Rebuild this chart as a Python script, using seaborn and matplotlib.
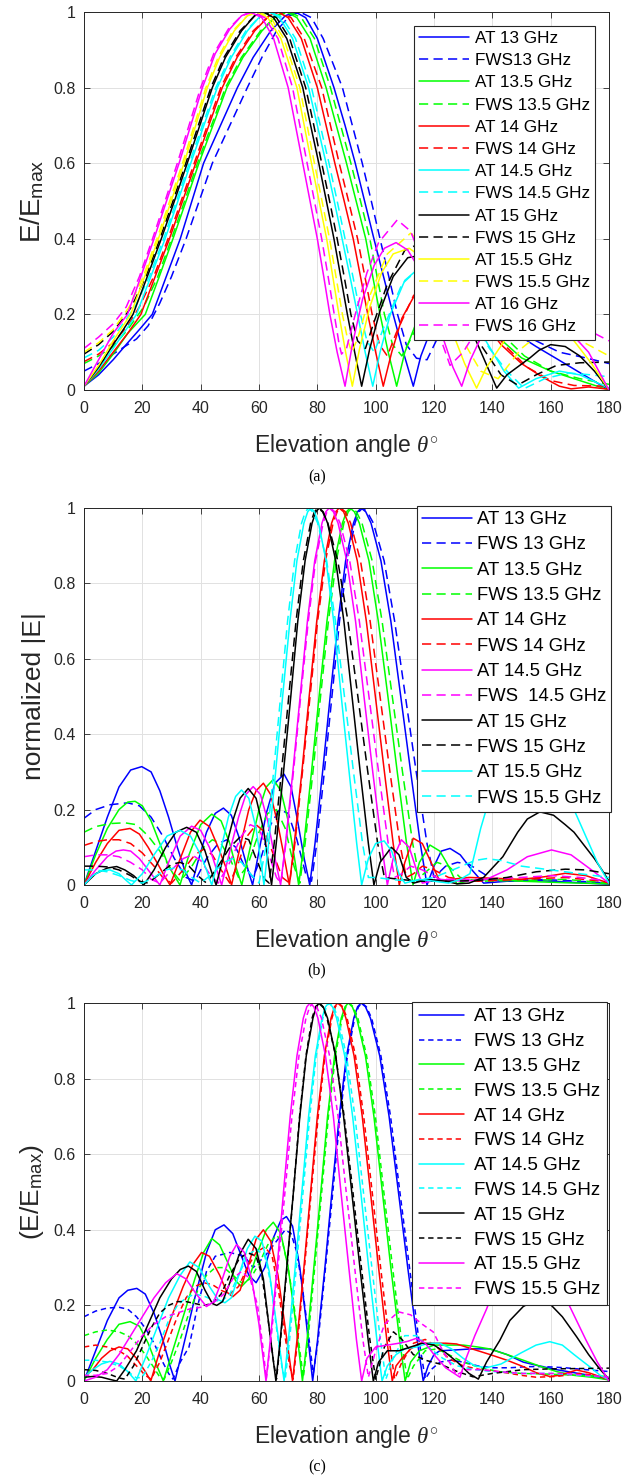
import matplotlib
matplotlib.use("Agg")
import matplotlib.pyplot as plt
import seaborn as sns

# ---------------- data: panel (a) ----------------
A_LABELS = ['AT 13 GHz', 'FWS13 GHz', 'AT 13.5 GHz', 'FWS 13.5 GHz', 'AT 14 GHz', 'FWS 14 GHz',
            'AT 14.5 GHz', 'FWS 14.5 GHz', 'AT 15 GHz', 'FWS 15 GHz', 'AT 15.5 GHz', 'FWS 15.5 GHz',
            'AT 16 GHz', 'FWS 16 GHz']
A_AT13 = [(0,.01),(5,.04),(10,.08),(15,.125),(19,.16),(23.4,.2),(28.2,.3),(33,.4),(37,.5),(41,.6),(46.8,.7),(52.6,.8),(58,.88),(64,.95),(69,.99),(72.5,1),(76,.985),(80,.93),(85.7,.8),(89.5,.7),(93,.6),(96.2,.5),(99.4,.4),(102.7,.3),(106,.2),(109.5,.1),(112.9,.01),(115.5,.09),(119,.16),(125,.23),(132,.26),(140,.22),(148,.15),(155,.115),(162,.083),(170,.046),(180,0)]
A_FWS13 = [(0,.05),(5,.07),(10,.095),(15,.12),(18,.135),(22,.17),(26,.23),(30,.3),(35,.4),(39.5,.5),(44,.6),(50,.7),(56,.8),(61,.88),(66,.95),(70.5,.99),(74,1),(78,.985),(82,.93),(88.6,.8),(92,.7),(95.4,.6),(98.5,.5),(101.5,.4),(104.5,.3),(107.5,.2),(110.5,.12),(114,.084),(117.6,.08),(122,.15),(130,.24),(138,.24),(146,.18),(155,.13),(163,.1),(172,.085),(180,.07)]
A_AT135 = [(0,.01),(5,.045),(10,.095),(15,.15),(21,.2),(25.8,.3),(30.5,.4),(35,.5),(39.4,.6),(44.2,.7),(49,.8),(54.5,.88),(61,.95),(66,.99),(69.5,1),(73,.985),(77.5,.93),(83,.8),(86.5,.7),(90,.6),(93.3,.5),(96.6,.4),(99,.3),(101.5,.2),(104.3,.1),(107.2,.01),(110,.1),(114,.18),(119,.25),(126,.27),(134,.22),(142,.14),(150,.085),(160,.05),(170,.025),(180,0)]
A_FWS135 = [(0,.07),(5,.09),(10,.115),(15,.16),(20.5,.22),(25.3,.3),(30,.4),(34.5,.5),(38.9,.6),(43.7,.7),(48.5,.8),(54,.88),(60.5,.95),(66,.99),(70.5,1),(74.5,.985),(79,.93),(84.5,.8),(88,.7),(91.5,.6),(94.8,.5),(98,.4),(100.5,.3),(103,.2),(105.8,.12),(109,.09),(113,.15),(119,.24),(127,.27),(135,.22),(143,.15),(151,.09),(160,.05),(170,.03),(180,.015)]
A_AT14 = [(0,.01),(5,.05),(10,.1),(15,.15),(19.5,.2),(24.4,.3),(29.3,.4),(33.8,.5),(38.3,.6),(42.8,.7),(47.4,.8),(52.5,.88),(58.5,.95),(63.5,.99),(66.5,1),(70,.985),(74.5,.93),(80,.8),(83,.7),(86,.6),(89.2,.5),(92.3,.4),(94.8,.3),(97.3,.2),(100,.1),(102.6,.01),(105.5,.1),(109,.19),(114,.26),(120,.3),(127,.28),(135,.2),(143,.12),(150,.07),(157,.035),(163,.01),(167,.003),(173,.008),(180,.002)]
A_FWS14 = [(0,.075),(5,.095),(10,.125),(15,.17),(19,.22),(23.9,.3),(28.8,.4),(33.3,.5),(37.8,.6),(42.3,.7),(46.9,.8),(52,.88),(58,.95),(63.5,.99),(67,1),(71,.985),(75.5,.93),(81.5,.8),(84.5,.7),(87.5,.6),(90.7,.5),(93.8,.4),(96.3,.3),(98.8,.2),(101.3,.12),(104,.09),(107,.15),(113,.25),(120,.29),(128,.27),(136,.2),(144,.12),(152,.06),(160,.025),(168,.012),(180,.01)]
A_AT145 = [(0,.01),(5,.055),(10,.11),(14,.155),(18,.2),(22.9,.3),(27.8,.4),(32.2,.5),(36.6,.6),(41.1,.7),(45.7,.8),(50.5,.88),(56,.95),(60.5,.99),(63.5,1),(67,.985),(71.5,.93),(77,.8),(80,.7),(83,.6),(85.8,.5),(88.5,.4),(91.2,.3),(93.8,.2),(96.4,.1),(99,.01),(101.5,.1),(105,.2),(110,.29),(116,.33),(122,.32),(129,.25),(137,.14),(144,.05),(149,.005),(155,.03),(163,.05),(170,.04),(180,.005)]
A_FWS145 = [(0,.085),(5,.105),(10,.14),(13.8,.18),(17.5,.22),(22.4,.3),(27.3,.4),(31.7,.5),(36.1,.6),(40.6,.7),(45.2,.8),(50,.88),(55.5,.95),(60.5,.99),(64,1),(68,.985),(72.5,.93),(78,.8),(81,.7),(84,.6),(86.8,.5),(89.5,.4),(92.2,.3),(94.8,.2),(97,.13),(99.5,.1),(103,.17),(109,.28),(116,.33),(123,.3),(131,.21),(139,.11),(145,.05),(151,.004),(158,.03),(166,.045),(174,.04),(180,.035)]
A_AT15 = [(0,.01),(5,.06),(10,.12),(13.5,.16),(16.8,.2),(21.7,.3),(26.5,.4),(31,.5),(35.4,.6),(39.7,.7),(44,.8),(48.5,.88),(54,.95),(58.5,.99),(61.5,1),(65,.985),(69.5,.93),(75,.8),(77.7,.7),(80.5,.6),(83.1,.5),(85.7,.4),(88,.3),(90.3,.2),(92.8,.1),(95.2,.01),(98,.11),(101.5,.21),(106,.3),(111,.35),(116,.357),(122,.32),(128,.24),(135,.12),(141.5,.005),(145,.04),(148.5,.06),(152.9,.085),(156,.105),(160,.12),(165,.115),(170,.09),(175,.05),(180,0)]
A_FWS15 = [(0,.095),(5,.12),(10,.155),(13,.185),(16.3,.22),(21.2,.3),(26,.4),(30.5,.5),(34.9,.6),(39.2,.7),(43.5,.8),(48,.88),(53.5,.95),(58.5,.99),(62,1),(66,.985),(70.5,.93),(76,.8),(78.8,.7),(81.5,.6),(84.2,.5),(86.8,.4),(89.2,.3),(91.5,.2),(93.8,.13),(96.5,.11),(99,.17),(104,.28),(110,.37),(116,.39),(122,.34),(129,.23),(136,.12),(143,.04),(148.7,.013),(155,.04),(162,.065),(170,.072),(180,.074)]
A_AT155 = [(0,.01),(5,.065),(10,.13),(13,.165),(16,.2),(20.8,.3),(25.5,.4),(29.9,.5),(34.3,.6),(38.3,.7),(42.3,.8),(46.5,.88),(51.5,.95),(56,.99),(59,1),(63,.985),(67.5,.93),(73,.8),(75.5,.7),(78,.6),(80.6,.5),(83.2,.4),(85.3,.3),(87.4,.2),(89.7,.1),(92,.01),(94.5,.11),(98,.22),(102,.31),(106,.36),(111.5,.375),(116,.35),(121,.27),(126,.16),(130.5,.07),(134.6,.005),(138,.06),(145,.14),(153,.2),(161,.19),(168,.13),(174,.07),(180,0)]
A_FWS155 = [(0,.1),(5,.125),(10,.16),(12.8,.19),(15.5,.22),(20.3,.3),(25,.4),(29.4,.5),(33.8,.6),(37.8,.7),(41.8,.8),(46,.88),(51,.95),(56,.99),(60,1),(64,.985),(68.5,.93),(74,.8),(76.5,.7),(79,.6),(81.6,.5),(84.2,.4),(86.4,.3),(88.6,.2),(90.5,.13),(91.8,.1),(94,.14),(98,.25),(104,.36),(112,.415),(118,.37),(124,.26),(130,.13),(136,.05),(142,.03),(150,.11),(158,.16),(168,.14),(180,.09)]
A_AT16 = [(0,.01),(5,.08),(10,.15),(14.9,.2),(19.5,.3),(24,.4),(28.3,.5),(32.6,.6),(36.6,.7),(40.6,.8),(45,.89),(50,.955),(54,.99),(57,1),(61,.985),(65,.93),(70,.8),(72.5,.7),(75,.6),(77.5,.5),(80,.4),(82.2,.3),(84.3,.2),(86.8,.1),(89.5,.01),(92,.12),(95.5,.24),(99.5,.33),(103,.375),(107,.39),(111,.37),(115,.32),(119,.24),(123,.14),(126.5,.06),(129.5,.01),(132.5,.08),(138,.17),(145,.23),(152,.25),(160,.22),(167,.15),(173,.1),(180,0)]
A_FWS16 = [(0,.11),(5,.14),(10,.175),(14.5,.22),(19,.3),(23.5,.4),(27.8,.5),(32,.6),(36,.7),(40,.8),(44.5,.89),(49.5,.955),(54,.99),(58,1),(62,.985),(66.5,.93),(71.5,.8),(74,.7),(76.5,.6),(79,.5),(81.5,.4),(83.7,.3),(85.8,.2),(87.5,.12),(88.3,.095),(90,.11),(93,.2),(97,.31),(101,.39),(107.4,.45),(112,.42),(116,.34),(120,.22),(123,.12),(125.5,.065),(130,.1),(138,.2),(148,.27),(158,.25),(168,.19),(175,.15),(180,.13)]

# ---------------- data: panel (b) ----------------
B_LABELS = ['AT 13 GHz', 'FWS 13 GHz', 'AT 13.5 GHz', 'FWS 13.5 GHz', 'AT 14 GHz', 'FWS 14 GHz',
            'AT 14.5 GHz', 'FWS  14.5 GHz', 'AT 15 GHz', 'FWS 15 GHz', 'AT 15.5 GHz', 'FWS 15.5 GHz']
B_AT13 = [(0,0),(4,.09),(8,.18),(12,.26),(16,.305),(19.8,.314),(23,.3),(26,.25),(29,.18),(32,.1),(34.5,.04),(36.9,0),(39,.06),(42,.14),(45,.19),(47.8,.204),(50.5,.185),(53,.13),(55.5,.06),(57.8,0),(60,.09),(62.5,.19),(65.5,.27),(68.6,.294),(71,.26),(73,.18),(75.5,.07),(77.4,0),(79.2,.11),(81.8,.3),(84.4,.5),(87.1,.7),(89.7,.86),(92.4,.96),(93.8,.99),(95,1),(96.6,.99),(98.4,.96),(101.8,.86),(105.2,.7),(108.6,.5),(112,.3),(115.3,.11),(117.6,0),(120,.05),(122.5,.09),(125.5,.097),(129,.08),(133,.04),(137,.005),(145,.01),(155,.012),(165,.008),(180,.002)]
B_FWS13 = [(0,.177),(4,.2),(9,.213),(15,.218),(19,.21),(23,.18),(27,.13),(31,.07),(35,.02),(38,.01),(42,.07),(46,.11),(49,.12),(52,.1),(55,.05),(58,.02),(61,.08),(64,.16),(67,.2),(70,.19),(73,.12),(76,.03),(78,.01),(79.8,.11),(82.4,.3),(85,.5),(87.6,.7),(90.3,.86),(92.9,.96),(94.3,.99),(95.5,1),(97.1,.99),(99.2,.96),(102.9,.86),(106.5,.7),(110.2,.5),(113.9,.3),(117.6,.11),(120,.02),(124,.05),(128,.06),(132,.055),(136,.035),(140,.015),(146,.01),(155,.015),(165,.012),(180,.005)]
B_AT135 = [(0,0),(4,.08),(8,.15),(12,.2),(15,.22),(17.5,.222),(20,.21),(23,.17),(26,.11),(29,.05),(32.9,0),(36,.08),(40,.16),(43.8,.188),(47,.17),(50,.11),(52,.05),(54.1,0),(57,.1),(60,.2),(62.5,.26),(64.9,.28),(67.5,.25),(70,.17),(72,.08),(73.6,0),(75.4,.11),(78,.3),(80.6,.5),(83.3,.7),(85.9,.86),(88.6,.96),(90,.99),(91.2,1),(92.7,.99),(94.4,.96),(97.7,.86),(100.9,.7),(104.2,.5),(107.4,.3),(110.6,.11),(112.8,0),(115,.06),(118.6,.106),(122,.09),(125,.05),(127.8,.003),(132,.012),(140,.015),(150,.01),(165,.006),(180,.003)]
B_FWS135 = [(0,.14),(4,.155),(9,.163),(14,.165),(18,.16),(22,.13),(26,.09),(30,.04),(33,.01),(37,.05),(41,.1),(44,.12),(47,.11),(50,.07),(53,.02),(56,.05),(60,.14),(63,.19),(66,.2),(69,.15),(72,.05),(74,.005),(75.8,.11),(78.5,.3),(81.1,.5),(83.8,.7),(86.5,.86),(89.1,.96),(90.6,.99),(91.8,1),(93.4,.99),(95.3,.96),(98.8,.86),(102.2,.7),(105.7,.5),(109.2,.3),(112.7,.11),(115,.02),(118,.04),(121,.06),(125,.05),(129,.02),(135,.01),(150,.012),(165,.015),(180,.005)]
B_AT14 = [(0,0),(4,.06),(8,.11),(12,.145),(15.8,.15),(19,.135),(22,.1),(25,.06),(27.5,.025),(29.5,0),(33,.07),(36.5,.14),(39.8,.172),(43,.155),(46,.1),(48.5,.05),(50.6,0),(53.5,.1),(56.5,.2),(59,.25),(61.5,.27),(64,.24),(66.5,.16),(68.5,.08),(70.4,0),(72.1,.11),(74.7,.3),(77.2,.5),(79.8,.7),(82.4,.86),(84.9,.96),(86.3,.99),(87.5,1),(89,.99),(90.6,.96),(93.7,.86),(96.8,.7),(99.9,.5),(103,.3),(106,.11),(108.1,0),(110,.06),(112.9,.124),(116,.11),(119,.06),(122,.01),(126,.015),(132,.02),(140,.018),(150,.015),(158,.022),(165,.031),(172,.025),(180,.005)]
B_FWS14 = [(0,.105),(4,.115),(8,.12),(12,.12),(16,.11),(20,.085),(24,.05),(27,.02),(30,.005),(34,.04),(38,.08),(41,.095),(44,.08),(47,.04),(50,.005),(53,.06),(56,.13),(59,.16),(62,.14),(65,.08),(68,.02),(70.5,.005),(72.3,.11),(74.9,.3),(77.5,.5),(80.1,.7),(82.8,.86),(85.4,.96),(86.8,.99),(88,1),(89.6,.99),(91.4,.96),(94.8,.86),(98.1,.7),(101.5,.5),(104.9,.3),(108.3,.11),(110.5,.02),(113,.03),(116,.05),(120,.04),(125,.02),(135,.01),(150,.015),(165,.02),(180,.008)]
B_AT145 = [(0,0),(4,.04),(8,.075),(11,.09),(13.5,.093),(16,.09),(19,.07),(22,.04),(24.5,.015),(26,0),(29,.06),(33,.13),(36.9,.156),(40,.145),(43,.1),(45.5,.04),(47.2,0),(50,.09),(53,.18),(55.5,.24),(58,.261),(60.5,.24),(63,.17),(65.5,.07),(67.4,0),(69.1,.11),(71.6,.3),(74.1,.5),(76.6,.7),(79.1,.86),(81.6,.96),(82.9,.99),(84.1,1),(85.5,.99),(87.1,.96),(90.1,.86),(93.1,.7),(96,.5),(99,.3),(102,.11),(104,0),(106,.07),(108.8,.12),(111.5,.1),(114,.04),(116,.005),(122,.015),(130,.01),(138,.015),(145,.04),(152,.075),(160.3,.093),(167,.08),(174,.04),(180,.005)]
B_FWS145 = [(0,.075),(4,.08),(8,.08),(12,.075),(16,.06),(20,.04),(23,.015),(26,.005),(30,.04),(34,.07),(37,.08),(40,.065),(43,.03),(46,.005),(50,.06),(54,.13),(57,.16),(60,.15),(63,.09),(66,.02),(67.5,.005),(69.2,.11),(71.8,.3),(74.3,.5),(76.9,.7),(79.4,.86),(82,.96),(83.3,.99),(84.5,1),(86,.99),(87.8,.96),(91.1,.86),(94.4,.7),(97.7,.5),(101,.3),(104.3,.11),(106.5,.02),(109,.03),(112,.05),(116,.04),(122,.015),(135,.015),(150,.02),(160,.025),(170,.02),(180,.01)]
B_AT15 = [(0,0),(4,.03),(8,.045),(11.2,.049),(14,.04),(17,.025),(20.5,0),(24,.04),(28,.1),(31.5,.14),(35.2,.153),(38.5,.14),(41.5,.09),(43.5,.04),(45.3,0),(48,.08),(51,.17),(53.5,.23),(56.3,.256),(59,.23),(61.5,.15),(63,.07),(64.3,0),(65.9,.11),(68.4,.3),(70.9,.5),(73.3,.7),(75.8,.86),(78.2,.96),(79.5,.99),(80.7,1),(82,.99),(83.5,.96),(86.3,.86),(89.1,.7),(91.9,.5),(94.7,.3),(97.5,.11),(99.4,0),(101.5,.06),(105.4,.1),(108,.08),(110.5,.02),(113,.005),(118,.015),(124,.01),(128,.003),(132,.005),(137,.02),(140,.045),(143.6,.075),(148.7,.14),(152,.175),(156.3,.194),(161,.185),(165,.16),(168,.14),(172,.1),(175,.07),(178,.035),(180,.01)]
B_FWS15 = [(0,.05),(4,.05),(8,.048),(12,.04),(16,.025),(19,.01),(22,.005),(26,.03),(30,.055),(33,.06),(36,.05),(39,.025),(42,.005),(46,.05),(50,.1),(53.6,.128),(56.5,.12),(59,.07),(62,.015),(63.5,.005),(65.2,.11),(67.7,.3),(70.2,.5),(72.7,.7),(75.2,.86),(77.7,.96),(79,.99),(80.2,1),(81.8,.99),(83.6,.96),(87,.86),(90.5,.7),(93.9,.5),(97.3,.3),(100.7,.11),(103,.02),(108,.015),(115,.01),(125,.01),(135,.012),(145,.02),(155,.035),(165,.042),(172,.04),(180,.03)]
B_AT155 = [(0,0),(3,.025),(6,.038),(8.9,.04),(12,.03),(14.5,.012),(16.3,0),(20,.03),(24,.08),(28.5,.13),(32.9,.145),(36.5,.13),(40,.08),(42,.04),(43.8,0),(46.5,.08),(49.5,.18),(52,.235),(54,.252),(56.5,.23),(59,.15),(60.5,.07),(61.7,0),(63.3,.11),(65.7,.3),(68.1,.5),(70.6,.7),(73,.86),(75.4,.96),(76.7,.99),(77.8,1),(79,.99),(80.4,.96),(83,.86),(85.6,.7),(88.2,.5),(90.9,.3),(93.5,.11),(95.2,0),(97.5,.07),(100,.11),(102.9,.117),(105.5,.09),(108,.03),(110,.005),(115,.015),(120,.01),(125,.005),(129,.015),(132.3,.03),(136,.15),(139.8,.25),(145,.33),(152,.36),(158,.33),(164.3,.26),(168,.2),(172,.13),(176,.06),(180,.005)]
B_FWS155 = [(0,.04),(4,.04),(8,.035),(12,.025),(16,.012),(20,.005),(24,.02),(28,.04),(31,.045),(34,.04),(37,.02),(40,.005),(44,.03),(48,.06),(51,.07),(54,.06),(57,.03),(60,.005),(62.6,.11),(65,.3),(67.4,.5),(69.8,.7),(72.2,.86),(74.6,.96),(75.9,.99),(77,1),(78.4,.99),(80.1,.96),(83.2,.86),(86.2,.7),(89.3,.5),(92.4,.3),(95.5,.11),(97.5,.02),(100,.02),(105,.015),(112,.01),(120,.02),(128,.045),(134,.065),(138,.07),(143,.065),(150,.05),(160,.04),(170,.03),(180,.02)]

# ---------------- data: panel (c) ----------------
C_LABELS = ['AT 13 GHz', 'FWS 13 GHz', 'AT 13.5 GHz', 'FWS 13.5 GHz', 'AT 14 GHz', 'FWS 14 GHz',
            'AT 14.5 GHz', 'FWS 14.5 GHz', 'AT 15 GHz', 'FWS 15 GHz', 'AT 15.5 GHz', 'FWS 15.5 GHz']
C_AT13 = [(0,0),(4,.08),(8,.16),(12,.22),(15,.24),(18.1,.245),(21,.23),(24,.18),(27,.11),(29.5,.04),(31.2,0),(34,.09),(38,.22),(42,.34),(45,.4),(48,.413),(51,.39),(54,.33),(56.5,.28),(59,.26),(62,.3),(65,.38),(67.5,.425),(69.4,.435),(71.5,.41),(74,.3),(76,.17),(78.4,0),(80.1,.11),(82.6,.3),(85,.5),(87.5,.7),(90,.86),(92.5,.96),(93.8,.99),(95,1),(96.5,.99),(98.2,.96),(101.4,.86),(104.6,.7),(107.8,.5),(111,.3),(114.2,.11),(116.3,0),(118,.04),(120,.07),(122,.08),(127,.082),(133,.085),(139.2,.085),(145,.07),(150.6,.05),(156,.04),(162,.03),(168,.022),(173.4,.015),(180,.003)]
C_FWS13 = [(0,.17),(4,.185),(8,.193),(12,.195),(15,.19),(18,.17),(21,.14),(24,.1),(27,.05),(29,.02),(30.5,.005),(33,.05),(36,.09),(39,.2),(42,.29),(45,.33),(50,.34),(55,.33),(58,.3),(62,.33),(66,.37),(69,.4),(71,.39),(73,.34),(75,.24),(77,.12),(78.6,.02),(80.3,.11),(82.8,.3),(85.3,.5),(87.8,.7),(90.3,.86),(92.8,.96),(94.1,.99),(95.3,1),(96.8,.99),(98.6,.96),(101.8,.86),(105.1,.7),(108.3,.5),(111.6,.3),(114.8,.11),(117,.005),(119,.03),(122,.05),(126,.055),(130,.05),(135,.04),(140,.035),(146,.035),(152,.038),(158,.038),(165,.035),(172,.03),(180,.025)]
C_AT135 = [(0,0),(4,.06),(8,.11),(12,.15),(15.8,.157),(19,.145),(22,.1),(25,.04),(27.2,0),(30,.07),(34,.17),(38,.27),(41,.34),(43.8,.377),(46.5,.36),(49.5,.31),(52,.265),(54,.25),(56.5,.27),(59.5,.34),(62.5,.4),(64.9,.42),(67.5,.39),(70,.3),(72.5,.16),(74.9,0),(76.5,.11),(78.8,.3),(81.2,.5),(83.5,.7),(85.9,.86),(88.2,.96),(89.5,.99),(90.6,1),(92,.99),(93.5,.96),(96.5,.86),(99.4,.7),(102.3,.5),(105.2,.3),(108.2,.11),(110.1,0),(112,.05),(115,.08),(120,.095),(125,.095),(130,.095),(135,.09),(139,.085),(145,.07),(150.6,.055),(156,.04),(162,.025),(168,.015),(174,.01),(180,.003)]
C_FWS135 = [(0,.12),(4,.13),(8,.135),(12,.13),(15,.12),(18,.1),(21,.07),(24,.035),(26,.01),(27.5,.005),(30,.05),(33,.11),(36,.18),(39,.24),(42,.28),(45,.3),(48,.3),(51,.28),(54,.26),(57,.27),(60,.31),(63,.36),(66,.385),(68,.37),(70,.3),(72,.2),(74,.08),(75.2,.01),(76.8,.11),(79.1,.3),(81.5,.5),(83.8,.7),(86.2,.86),(88.5,.96),(89.8,.99),(90.9,1),(92.3,.99),(93.9,.96),(96.9,.86),(99.9,.7),(102.8,.5),(105.8,.3),(108.8,.11),(110.8,.005),(113,.04),(117,.08),(121,.085),(125,.07),(130,.05),(136,.035),(142,.025),(150,.02),(160,.018),(170,.015),(180,.012)]
C_AT14 = [(0,.01),(3,.03),(6,.06),(9,.08),(12,.09),(15,.085),(18,.06),(21,.025),(22.9,0),(26,.08),(30,.17),(34,.25),(37.5,.31),(40.3,.34),(43,.33),(46.5,.28),(49,.235),(51,.223),(53.5,.24),(56.5,.31),(59,.375),(61.5,.4),(64,.37),(66.5,.28),(69,.14),(71.5,0),(73.05,.11),(75.4,.3),(77.7,.5),(80,.7),(82.4,.86),(84.7,.96),(85.9,.99),(87,1),(88.4,.99),(89.8,.96),(92.6,.86),(95.4,.7),(98.2,.5),(101,.3),(103.8,.11),(105.7,0),(107,.04),(109,.06),(112,.085),(115.2,.1),(120,.1),(124,.1),(127.7,.098),(133,.085),(139.2,.07),(145,.055),(150.6,.038),(155,.022),(159.7,.012),(163,.015),(168.9,.029),(173,.022),(180,.003)]
C_FWS14 = [(0,.09),(4,.095),(8,.09),(12,.08),(15,.065),(18,.04),(21,.015),(23,.005),(26,.05),(29,.11),(32,.17),(35,.22),(38,.25),(41,.26),(44,.255),(47,.24),(50,.23),(53,.25),(56,.3),(59,.34),(62,.355),(64.5,.33),(66.5,.25),(68.5,.14),(70.5,.04),(71.7,.005),(73.3,.11),(75.6,.3),(77.9,.5),(80.3,.7),(82.6,.86),(85,.96),(86.2,.99),(87.3,1),(88.7,.99),(90.2,.96),(93.1,.86),(95.9,.7),(98.8,.5),(101.7,.3),(104.6,.11),(106.5,.005),(109,.05),(113,.1),(117,.11),(121,.09),(125,.06),(130,.04),(136,.03),(142,.025),(150,.015),(155,.01),(162,.012),(170,.02),(175,.015),(180,.005)]
C_AT145 = [(0,.01),(3,.03),(6,.045),(8.9,.052),(12,.045),(15,.025),(17.8,0),(21,.06),(25,.14),(29,.22),(33,.28),(36.3,.315),(39.5,.3),(43,.25),(46,.215),(48.3,.207),(50.5,.22),(53.5,.29),(56,.35),(58.6,.383),(61,.37),(63.5,.29),(66,.15),(68.6,0),(70.1,.11),(72.4,.3),(74.7,.5),(77,.7),(79.3,.86),(81.6,.96),(82.8,.99),(83.9,1),(85.2,.99),(86.6,.96),(89.4,.86),(92.1,.7),(94.9,.5),(97.6,.3),(100.4,.11),(102.2,0),(104,.04),(107,.07),(110,.085),(114,.09),(118,.1),(122,.1),(126,.085),(130,.06),(134,.04),(138,.035),(143,.045),(150,.075),(155,.095),(159.7,.104),(164,.095),(168,.07),(173,.04),(177,.015),(180,.003)]
C_FWS145 = [(0,.055),(4,.055),(8,.05),(12,.04),(15,.025),(18,.008),(20,.01),(23,.05),(26,.1),(29,.16),(32,.2),(35,.22),(38,.23),(41,.225),(44,.215),(47,.21),(50,.23),(53,.28),(56,.33),(59,.35),(62,.33),(64,.26),(66,.14),(68,.03),(69,.005),(70.5,.11),(72.8,.3),(75.1,.5),(77.4,.7),(79.6,.86),(81.9,.96),(83.1,.99),(84.2,1),(85.6,.99),(87.1,.96),(90,.86),(92.9,.7),(95.8,.5),(98.7,.3),(101.6,.11),(103.5,.005),(106,.06),(110,.12),(114,.12),(118,.09),(123,.06),(128,.04),(134,.03),(140,.025),(150,.02),(160,.02),(170,.015),(180,.01)]
C_AT15 = [(0,.01),(3,.012),(6,.01),(9,.004),(11.2,0),(14,.03),(18,.08),(22,.15),(26,.22),(30,.27),(33,.295),(35.8,.304),(38.5,.29),(41.5,.24),(44,.205),(45.5,.2),(47.5,.21),(50,.26),(53,.33),(56.3,.375),(59,.35),(61.5,.27),(63.5,.14),(65.8,0),(67.3,.11),(69.5,.3),(71.8,.5),(74,.7),(76.2,.86),(78.5,.96),(79.6,.99),(80.7,1),(82,.99),(83.5,.96),(86.3,.86),(89,.7),(91.8,.5),(94.6,.3),(97.4,.11),(99.2,0),(101,.05),(104,.08),(108,.08),(112,.09),(116,.1),(120,.095),(124,.075),(128,.05),(132,.02),(135.2,.005),(138,.05),(142.6,.108),(146,.16),(150.6,.197),(155,.215),(159,.21),(164,.17),(168.9,.117),(173,.07),(177,.03),(180,.005)]
C_FWS15 = [(0,.03),(4,.028),(8,.02),(12,.008),(14,.005),(17,.04),(20,.09),(23,.14),(26,.18),(29,.2),(32,.21),(35,.21),(38,.205),(41,.2),(44,.205),(47,.23),(50,.28),(53,.32),(56,.34),(59,.33),(61,.28),(63,.17),(65,.05),(66,.005),(67.4,.11),(69.6,.3),(71.8,.5),(73.9,.7),(76.1,.86),(78.2,.96),(79.4,.99),(80.4,1),(81.8,.99),(83.3,.96),(86.3,.86),(89.2,.7),(92.2,.5),(95.1,.3),(98,.11),(100,.005),(103,.09),(106.1,.13),(109,.11),(112.9,.07),(117,.055),(122,.045),(128,.025),(133.4,.011),(140,.02),(150.6,.03),(160,.032),(170,.033),(180,.034)]
C_AT155 = [(0,0),(4,.01),(8,.03),(12,.07),(16,.12),(20,.17),(24,.22),(28,.26),(31.8,.284),(35,.27),(38.5,.23),(42,.197),(44.5,.21),(47,.26),(50,.33),(52.3,.361),(55,.34),(57.5,.27),(60,.15),(62.4,0),(63.9,.11),(66.2,.3),(68.4,.5),(70.7,.7),(73,.86),(75.2,.96),(76.4,.99),(77.5,1),(78.8,.99),(80.2,.96),(82.8,.86),(85.5,.7),(88.1,.5),(90.8,.3),(93.4,.11),(95.2,0),(97,.06),(100,.09),(104,.095),(108,.1),(111,.105),(114,.113),(117,.1),(120,.07),(124,.035),(128.9,.01),(131,.06),(134,.12),(138,.19),(142,.27),(148,.33),(152,.35),(157,.32),(162,.27),(167,.19),(172,.11),(176,.05),(180,0)]
C_FWS155 = [(0,.015),(4,.015),(8,.02),(12,.04),(16,.08),(20,.12),(24,.15),(28,.17),(32,.18),(36,.19),(40,.195),(44,.205),(48,.23),(51,.27),(54,.29),(57,.27),(59.5,.2),(61.5,.08),(62.5,.005),(64.1,.11),(66.5,.3),(68.9,.5),(71.3,.7),(73.7,.86),(76.1,.96),(77.4,.99),(78.5,1),(79.8,.99),(81.4,.96),(84.2,.86),(87.1,.7),(89.9,.5),(92.8,.3),(95.6,.11),(97.5,.01),(100,.08),(103,.15),(107.8,.183),(112,.175),(116,.15),(119.7,.13),(123,.08),(126,.04),(127.7,.016),(131,.03),(136,.03),(142,.025),(150,.02),(158,.02),(165,.02),(172,.015),(180,.01)]

A_CURVES = [A_AT13, A_FWS13, A_AT135, A_FWS135, A_AT14, A_FWS14, A_AT145, A_FWS145,
            A_AT15, A_FWS15, A_AT155, A_FWS155, A_AT16, A_FWS16]
B_CURVES = [B_AT13, B_FWS13, B_AT135, B_FWS135, B_AT14, B_FWS14, B_AT145, B_FWS145,
            B_AT15, B_FWS15, B_AT155, B_FWS155]
C_CURVES = [C_AT13, C_FWS13, C_AT135, C_FWS135, C_AT14, C_FWS14, C_AT145, C_FWS145,
            C_AT15, C_FWS15, C_AT155, C_FWS155]

BLUE, GREEN, RED, CYAN, BLACK, YELLOW, MAGENTA = '#0000ff', '#00ff00', '#ff0000', '#00ffff', '#000000', '#ffff00', '#ff00ff'
A_COLORS = [BLUE, GREEN, RED, CYAN, BLACK, YELLOW, MAGENTA]
B_COLORS = [BLUE, GREEN, RED, MAGENTA, BLACK, CYAN]
C_COLORS = [BLUE, GREEN, RED, CYAN, BLACK, MAGENTA]

X_TICKS = [0, 20, 40, 60, 80, 100, 120, 140, 160, 180]
Y_TICKS = [0, 0.2, 0.4, 0.6, 0.8, 1.0]
Y_TICKLABELS = ['0', '0.2', '0.4', '0.6', '0.8', '1']

# ---------------- style ----------------
sns.set_style("ticks")
plt.rcParams['font.family'] = ['Liberation Sans', 'DejaVu Sans']
plt.rcParams['mathtext.fontset'] = 'custom'
plt.rcParams['mathtext.rm'] = 'Liberation Sans'
plt.rcParams['mathtext.it'] = 'Liberation Serif:italic'
plt.rcParams['mathtext.bf'] = 'Liberation Sans:bold'

W, H = 623, 1481
fig = plt.figure(figsize=(W / 100, H / 100), dpi=100)
fig.patch.set_facecolor('white')

TXT = '#262626'


def make_axes(top_px, bottom_px):
    return fig.add_axes([84 / W, 1 - bottom_px / H, 525 / W, (bottom_px - top_px) / H])


def draw_panel(ax, curves, labels, colors, dash, ylabel, ysize, leg):
    for i, (pts, lab) in enumerate(zip(curves, labels)):
        xs = [p[0] for p in pts]
        ys = [p[1] for p in pts]
        col = colors[i // 2]
        ls = '-' if i % 2 == 0 else (0, dash)
        sns.lineplot(x=xs, y=ys, ax=ax, color=col, linewidth=1.1, linestyle=ls,
                     label=lab, sort=False, estimator=None, errorbar=None)
    ax.set_xlim(0, 180)
    ax.set_ylim(0, 1)
    ax.set_xticks(X_TICKS)
    ax.set_yticks(Y_TICKS)
    ax.set_yticklabels(Y_TICKLABELS)
    ax.grid(True, color='#e1e1e1', linewidth=0.7)
    ax.set_axisbelow(True)
    ax.tick_params(direction='in', top=True, right=True, length=4, width=0.6,
                   labelsize=11.5, colors=TXT, pad=6)
    ax.tick_params(axis='x', pad=8)
    for s in ax.spines.values():
        s.set_color(TXT)
        s.set_linewidth(0.7)
    ax.set_xlabel(r'Elevation angle $\theta^{\circ}$', fontsize=16.5, color=TXT)
    ax.xaxis.set_label_coords(0.5, -0.112)
    ax.set_ylabel(ylabel, fontsize=ysize, color=TXT)
    ax.yaxis.set_label_coords(-0.072, 0.5)
    lg = ax.legend(loc='upper right', bbox_to_anchor=leg['anchor'], borderaxespad=0,
                   fontsize=leg['fs'], handlelength=leg['hl'], handletextpad=leg['htp'],
                   labelspacing=leg['ls'], borderpad=leg['bp'], fancybox=False,
                   framealpha=1, edgecolor=TXT, facecolor='white')
    lg.get_frame().set_linewidth(0.8)
    for t in lg.get_texts():
        t.set_color('black')


ax_a = make_axes(12, 390)
draw_panel(ax_a, A_CURVES, A_LABELS, A_COLORS, (6, 3.5), r'E/E$_{\mathregular{max}}$', 20,
           dict(anchor=(0.973, 0.963), fs=12.3, hl=2.95, htp=0.3, ls=0.42, bp=0.3))

ax_b = make_axes(508, 885)
draw_panel(ax_b, B_CURVES, B_LABELS, B_COLORS, (6, 3.5), 'normalized |E|', 19,
           dict(anchor=(1.004, 1.005), fs=13.3, hl=2.7, htp=0.28, ls=0.45, bp=0.27))

ax_c = make_axes(1003, 1381)
draw_panel(ax_c, C_CURVES, C_LABELS, C_COLORS, (3.5, 2.5), r'(E/E$_{\mathregular{max}}$)', 19,
           dict(anchor=(0.996, 1.003), fs=13.5, hl=2.4, htp=0.57, ls=0.41, bp=0.34))

for cap, ypx in [('(a)', 477), ('(b)', 970), ('(c)', 1467)]:
    fig.text(317 / W, 1 - ypx / H, cap, ha='center', va='center', fontsize=11.5,
             family='Liberation Serif', color='black')

fig.savefig('out.png', dpi=100)
